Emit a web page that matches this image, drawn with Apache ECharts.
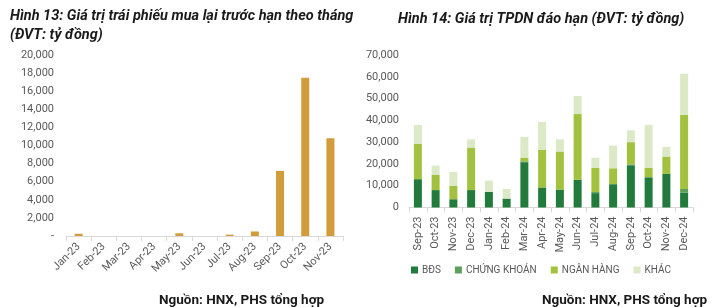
<!DOCTYPE html>
<html><head><meta charset="utf-8">
<script src="https://cdn.jsdelivr.net/npm/echarts@6/dist/echarts.min.js"></script>
<style>html,body{margin:0;padding:0;background:#fff}#c{width:727px;height:307px}</style>
</head><body><div id="c"></div>
<script>
// Left chart: early redemption value by month
const monthsLeft = ['Jan-23','Feb-23','Mar-23','Apr-23','May-23','Jun-23','Jul-23','Aug-23','Sep-23','Oct-23','Nov-23'];
const redemption = [250, 0, 0, 0, 300, 0, 150, 500, 7200, 17500, 10800];
const leftTicks = [0, 2000, 4000, 6000, 8000, 10000, 12000, 14000, 16000, 18000, 20000];

// Right chart: maturing corporate bonds by sector
const monthsRight = ['Sep-23','Oct-23','Nov-23','Dec-23','Jan-24','Feb-24','Mar-24','Apr-24','May-24','Jun-24','Jul-24','Aug-24','Sep-24','Oct-24','Nov-24','Dec-24'];
const bds   = [13000, 8000, 3800, 8000, 7200, 4100, 20800, 9200, 8250, 12800, 6600, 10700, 19400, 13600, 15400, 6900];
const ck    = [0, 0, 0, 0, 0, 0, 400, 0, 0, 0, 500, 0, 400, 400, 0, 1600];
const nh    = [16200, 7100, 6100, 19500, 0, 0, 1700, 17200, 17450, 30100, 11200, 7300, 10200, 4300, 8000, 34000];
const khac  = [8700, 4150, 6450, 3800, 5200, 4450, 9500, 12900, 5600, 8300, 4500, 10400, 5400, 19600, 4400, 18900];
const seriesNames = ['BĐS', 'CHỨNG KHOÁN', 'NGÂN HÀNG', 'KHÁC'];
const rightTicks = [0, 10000, 20000, 30000, 40000, 50000, 60000, 70000];

const fmt = v => v.toLocaleString('en-US');
const font = 'Roboto, "Noto Sans", sans-serif';
const axisCol = '#595959';
const lineCol = '#d9d9d9';

const chart = echarts.init(document.getElementById('c'), null, {renderer: 'canvas'});
const rightSeriesData = [bds, ck, nh, khac];
const rightColors = ['#227a3d', '#5d9f5d', '#a2c23f', '#dce9c7'];

chart.setOption({
  animation: false,
  textStyle: {fontFamily: font},
  title: [
    {text: 'Hình 13: Giá trị trái phiếu mua lại trước hạn theo tháng\n(ĐVT: tỷ đồng)', left: 5, top: 2,
     textStyle: {fontFamily: font, fontSize: 14.5, fontWeight: 'bold', fontStyle: 'italic', color: '#1a1a1a', lineHeight: 19}},
    {text: 'Hình 14: Giá trị TPDN đáo hạn (ĐVT: tỷ đồng)', left: 393, top: 7,
     textStyle: {fontFamily: font, fontSize: 14.5, fontWeight: 'bold', fontStyle: 'italic', color: '#1a1a1a'}},
    {text: 'Nguồn: HNX, PHS tổng hợp', left: 154, top: 289,
     textStyle: {fontFamily: font, fontSize: 13.5, fontWeight: 'bold', color: '#1a1a1a'}},
    {text: 'Nguồn: HNX, PHS tổng hợp', left: 537, top: 289,
     textStyle: {fontFamily: font, fontSize: 13.5, fontWeight: 'bold', color: '#1a1a1a'}}
  ],
  legend: {
    data: seriesNames, left: 406, top: 260, itemWidth: 7, itemHeight: 7, itemGap: 14, icon: 'rect',
    textStyle: {fontFamily: font, fontSize: 10, color: axisCol, padding: [0, 0, 0, -1]}
  },
  grid: [
    {left: 66, right: 384, top: 55, bottom: 71},
    {left: 409, right: 34, top: 55, bottom: 99.5}
  ],
  xAxis: [
    {type: 'category', gridIndex: 0, data: monthsLeft,
     axisLine: {lineStyle: {color: lineCol}}, axisTick: {show: true, lineStyle: {color: lineCol}},
     axisLabel: {rotate: 45, fontSize: 11, color: axisCol, margin: 9, interval: 0}},
    {type: 'category', gridIndex: 1, data: monthsRight,
     axisLine: {lineStyle: {color: lineCol}}, axisTick: {show: true, lineStyle: {color: lineCol}},
     axisLabel: {rotate: 90, fontSize: 11, color: axisCol, margin: 9, interval: 0}}
  ],
  yAxis: [
    {type: 'value', gridIndex: 0, min: leftTicks[0], max: leftTicks[leftTicks.length-1], interval: 2000,
     splitLine: {show: false}, axisLine: {show: false}, axisTick: {show: false},
     axisLabel: {fontSize: 11, color: axisCol, margin: 12, formatter: v => v === 0 ? '-' : fmt(v)}},
    {type: 'value', gridIndex: 1, min: rightTicks[0], max: rightTicks[rightTicks.length-1], interval: 10000,
     splitLine: {show: false}, axisLine: {show: false}, axisTick: {show: false},
     axisLabel: {fontSize: 11, color: axisCol, margin: 10, formatter: v => fmt(v)}}
  ],
  series: [
    {type: 'bar', xAxisIndex: 0, yAxisIndex: 0, data: redemption, barWidth: 8,
     itemStyle: {color: '#d39c3a'}},
    ...seriesNames.map((n, i) => ({
      name: n, type: 'bar', stack: 'tp', xAxisIndex: 1, yAxisIndex: 1, barWidth: 8,
      data: rightSeriesData[i], itemStyle: {color: rightColors[i]}
    }))
  ]
});
</script></body></html>
